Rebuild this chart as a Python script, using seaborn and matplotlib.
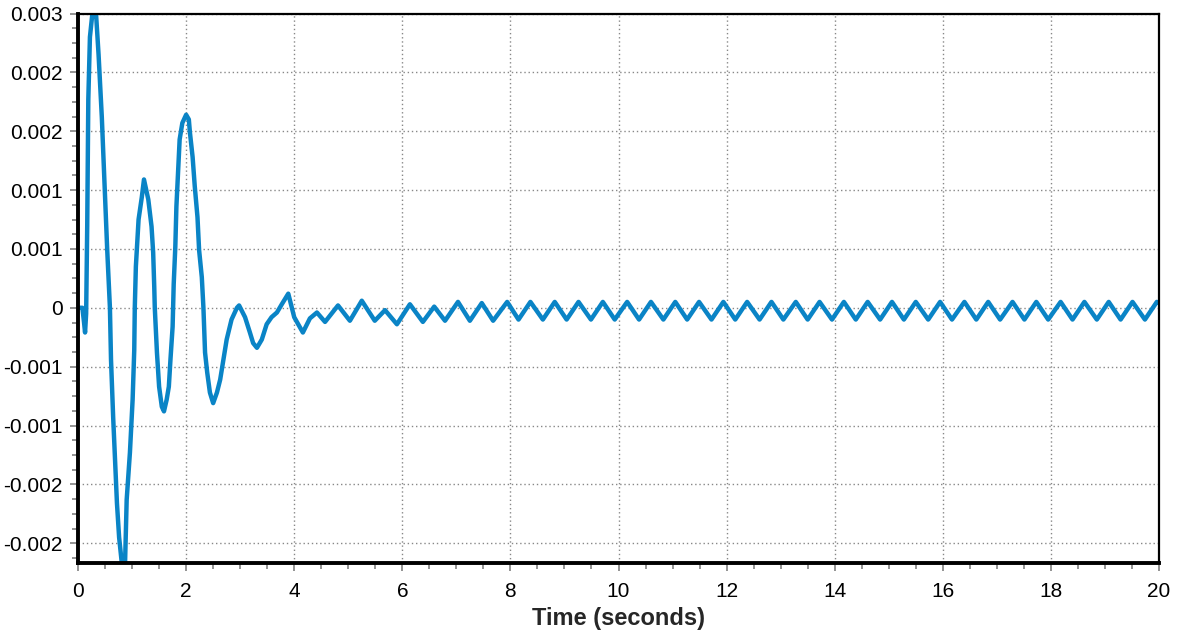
import numpy as np
import pandas as pd
import seaborn as sns
import matplotlib.pyplot as plt
from matplotlib.ticker import FixedLocator, FixedFormatter, MultipleLocator

# response (time in s, value)
time_s = [0.02, 0.08, 0.11, 0.13, 0.15, 0.17, 0.19, 0.22, 0.27, 0.33, 0.38, 0.44,
          0.50, 0.54, 0.59, 0.61, 0.65, 0.72, 0.76, 0.81, 0.87, 0.90, 0.96, 1.01,
          1.04, 1.05, 1.07, 1.12, 1.18, 1.22, 1.30, 1.36, 1.39, 1.41, 1.42, 1.46,
          1.50, 1.55, 1.59, 1.64, 1.68, 1.71, 1.75, 1.77, 1.80, 1.82, 1.85, 1.88,
          1.93, 2.00, 2.05, 2.07, 2.12, 2.16, 2.21, 2.24, 2.29, 2.32, 2.35, 2.39,
          2.44, 2.50, 2.57, 2.63, 2.69, 2.75, 2.84, 2.94, 2.98, 3.09, 3.18, 3.24,
          3.31, 3.40, 3.49, 3.58, 3.68, 3.77, 3.89, 4.00, 4.16, 4.29, 4.42, 4.57,
          4.81, 5.03, 5.25, 5.49, 5.68, 5.90, 6.14, 6.38, 6.59, 6.79, 7.03, 7.25,
          7.47, 7.68, 7.94, 8.15, 8.37, 8.60, 8.82, 9.04, 9.26, 9.49, 9.71, 9.93,
          10.16, 10.38, 10.60, 10.83, 11.05, 11.27, 11.49, 11.72, 11.94, 12.16,
          12.38, 12.61, 12.83, 13.05, 13.28, 13.50, 13.72, 13.95, 14.17, 14.39,
          14.61, 14.84, 15.06, 15.28, 15.50, 15.73, 15.95, 16.17, 16.40, 16.62,
          16.84, 17.06, 17.29, 17.51, 17.73, 17.95, 18.18, 18.40, 18.62, 18.85,
          19.07, 19.29, 19.51, 19.74, 19.96, 20.00]
response = [0.0, 0.0, -0.00012, -0.00021, -0.00005, 0.0007, 0.00177, 0.0023,
            0.00252, 0.00252, 0.00215, 0.00162, 0.00094, 0.00049, 0.0, -0.00044,
            -0.00093, -0.00166, -0.00195, -0.00217, -0.00217, -0.00163, -0.00123,
            -0.00078, -0.00036, 0.0, 0.00035, 0.00075, 0.00094, 0.00109, 0.00092,
            0.00069, 0.00047, 0.00018, 0.0, -0.00038, -0.00067, -0.00084, -0.00088,
            -0.00078, -0.00067, -0.00044, -0.00016, 0.0002, 0.00052, 0.00086,
            0.00115, 0.00143, 0.00157, 0.00164, 0.0016, 0.00149, 0.00128, 0.00103,
            0.00077, 0.00049, 0.00026, 0.0, -0.00038, -0.00055, -0.00072, -0.00081,
            -0.00072, -0.00061, -0.00044, -0.00027, -0.0001, 0.0, 0.00002, -0.00008,
            -0.00021, -0.0003, -0.00034, -0.00027, -0.00014, -0.00008, -0.00004,
            0.00003, 0.00012, -0.00008, -0.00021, -0.00009, -0.00004, -0.00012,
            0.00002, -0.00011, 0.00006, -0.00011, -0.00002, -0.00014, 0.00003,
            -0.00012, 0.00001, -0.00011, 0.00005, -0.00011, 0.00004, -0.00011,
            0.00005, -0.0001, 0.00005, -0.0001, 0.00005, -0.0001, 0.00005, -0.0001,
            0.00005, -0.0001, 0.00005, -0.0001, 0.00005, -0.0001, 0.00005, -0.0001,
            0.00005, -0.0001, 0.00005, -0.0001, 0.00005, -0.0001, 0.00005, -0.0001,
            0.00005, -0.0001, 0.00005, -0.0001, 0.00005, -0.0001, 0.00005, -0.0001,
            0.00005, -0.0001, 0.00005, -0.0001, 0.00005, -0.0001, 0.00005, -0.0001,
            0.00005, -0.0001, 0.00005, -0.0001, 0.00005, -0.0001, 0.00005, -0.0001,
            0.00005, -0.0001, 0.00005, -0.0001, 0.00005, -0.0001, 0.00005, 0.00004]

# y ticks every 0.0005, labels rounded to 3 decimals like the original
y_ticks = [0.0025, 0.002, 0.0015, 0.001, 0.0005, 0.0, -0.0005, -0.001, -0.0015, -0.002]
y_labels = ['0.003', '0.002', '0.002', '0.001', '0.001', '0', '-0.001', '-0.001',
            '-0.002', '-0.002']
x_ticks = [0, 2, 4, 6, 8, 10, 12, 14, 16, 18, 20]

df = pd.DataFrame({'t': time_s, 'v': response})

sns.set_style("white")
plt.rcParams['font.family'] = ['Liberation Sans', 'DejaVu Sans']

fig = plt.figure(figsize=(11.77, 6.34), dpi=100)
ax = fig.add_axes([0.0663, 0.112, 0.9184, 0.8667])

sns.lineplot(data=df, x='t', y='v', sort=False, color='#0a84c6',
             linewidth=3.2, ax=ax, solid_joinstyle='round')

ax.set_xlim(0, 20)
ax.set_ylim(-0.002168, 0.0025)
ax.xaxis.set_major_locator(FixedLocator(x_ticks))
ax.xaxis.set_minor_locator(MultipleLocator(0.5))
ax.yaxis.set_major_locator(FixedLocator(y_ticks))
ax.yaxis.set_major_formatter(FixedFormatter(y_labels))
ax.yaxis.set_minor_locator(MultipleLocator(0.000125))

ax.grid(True, which='major', color='#888888', linestyle=(0, (1, 2)), linewidth=1)
ax.tick_params(which='both', direction='out', color='#808080', width=1.2,
               labelsize=15, labelcolor='black')
ax.tick_params(which='major', length=6, pad=5)
ax.tick_params(axis='x', which='major', pad=8)
ax.tick_params(which='minor', length=4)
ax.tick_params(axis='x', which='both', bottom=True)
ax.tick_params(axis='y', which='both', left=True)

for side in ['left', 'bottom']:
    ax.spines[side].set_linewidth(2.8)
    ax.spines[side].set_color('black')
for side in ['top', 'right']:
    ax.spines[side].set_linewidth(1.6)
    ax.spines[side].set_color('black')

ax.set_xlabel('Time (seconds)', fontsize=17, fontweight='bold', labelpad=4)
ax.set_ylabel('')

fig.savefig('out.png', dpi=100)
